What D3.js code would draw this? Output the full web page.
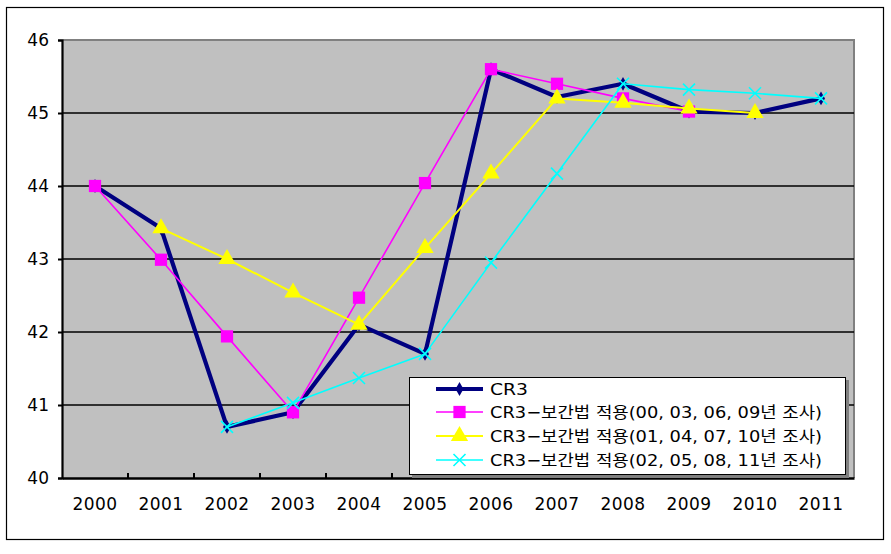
<!DOCTYPE html>
<html><head><meta charset="utf-8">
<script src="https://cdn.jsdelivr.net/npm/d3@7"></script>
<style>
html,body{margin:0;padding:0;background:#fff;}
text{font-family:"DejaVu Sans","Noto Sans CJK KR",sans-serif;}
</style></head>
<body>
<svg id="chart" width="891" height="554"></svg>
<script>
const years = ["2000","2001","2002","2003","2004","2005","2006","2007","2008","2009","2010","2011"];
const cr3 =    [44.0, 43.42, 40.7, 40.9, 42.1, 41.7, 45.6, 45.22, 45.4, 45.02, 45.0, 45.2];
const interpA = [44.0, 42.99, 41.94, 40.9, 42.47, 44.04, 45.6, 45.4, 45.2, 45.02, null, null];
const interpB = [null, 43.42, 43.0, 42.54, 42.1, 43.15, 44.17, 45.2, 45.14, 45.06, 45.0, null];
const interpC = [null, null, 40.7, 41.03, 41.37, 41.7, 42.95, 44.17, 45.4, 45.32, 45.27, 45.2];
const yTicks = [40, 41, 42, 43, 44, 45, 46];
const seriesNames = ["CR3", "CR3−보간법 적용(00, 03, 06, 09년 조사)", "CR3−보간법 적용(01, 04, 07, 10년 조사)", "CR3−보간법 적용(02, 05, 08, 11년 조사)"];

const svg = d3.select("#chart");
const L = 62, R = 854, T = 40, B = 478;

// outer border
svg.append("rect").attr("x", 6.5).attr("y", 7.5).attr("width", 877).attr("height", 532)
  .attr("fill", "#fff").attr("stroke", "#000").attr("stroke-width", 1.2);

const x = d3.scaleBand().domain(years).range([L, R]);
const y = d3.scaleLinear().domain([40, 46]).range([B, T]);

// plot background
svg.append("rect").attr("x", L).attr("y", T).attr("width", R - L).attr("height", B - T).attr("fill", "#C0C0C0");
// top/right border gray
svg.append("path").attr("d", `M${L},${T}H${R}V${B}`).attr("fill", "none").attr("stroke", "#808080").attr("stroke-width", 2);

// gridlines
svg.append("g").selectAll("line").data(yTicks.filter(d => d > 40 && d < 46)).join("line")
  .attr("x1", L).attr("x2", R).attr("y1", d => y(d)).attr("y2", d => y(d))
  .attr("stroke", "#000").attr("stroke-width", 1.6);

// y axis
const yAxis = svg.append("g").attr("transform", `translate(${L},0)`)
  .call(d3.axisLeft(y).tickValues(yTicks).tickSize(4).tickPadding(9).tickFormat(d3.format("d")));
yAxis.select(".domain").attr("stroke", "#000").attr("stroke-width", 2.2);
yAxis.selectAll(".tick line").attr("stroke", "#000").attr("stroke-width", 2);
yAxis.selectAll("text").attr("font-size", 17).attr("fill", "#000").attr("dy", "0.3em");

// x axis
const xAxis = svg.append("g").attr("transform", `translate(0,${B})`)
  .call(d3.axisBottom(x).tickSize(0).tickPadding(20));
xAxis.select(".domain").attr("stroke", "#000").attr("stroke-width", 2.5);
xAxis.selectAll("text").attr("font-size", 17).attr("letter-spacing", 0.4).attr("fill", "#000");
// boundary ticks pointing up
svg.append("g").selectAll("line").data(years.slice(1)).join("line")
  .attr("x1", d => x(d)).attr("x2", d => x(d)).attr("y1", B).attr("y2", B - 5)
  .attr("stroke", "#000").attr("stroke-width", 2);

const cx = i => x(years[i]) + x.bandwidth() / 2;
const line = d3.line().defined(d => d != null).x((d, i) => cx(i)).y(d => y(d));

const styles = [
  {data: cr3, color: "#000080", width: 4.2, marker: "diamond", size: 55},
  {data: interpA, color: "#FF00FF", width: 1.6, marker: "square", size: 150},
  {data: interpB, color: "#FFFF00", width: 2, marker: "triangle", size: 130},
  {data: interpC, color: "#00FFFF", width: 1.6, marker: "x", size: 0}
];

function drawMarker(g, s, px, py) {
  if (s.marker === "x") {
    const r = 6;
    g.append("path").attr("d", `M${px - r},${py - r}L${px + r},${py + r}M${px - r},${py + r}L${px + r},${py - r}`)
      .attr("stroke", s.color).attr("stroke-width", 1.6).attr("fill", "none");
  } else {
    const type = s.marker === "diamond" ? d3.symbolDiamond : s.marker === "square" ? d3.symbolSquare : d3.symbolTriangle;
    g.append("path").attr("d", d3.symbol().type(type).size(s.size)())
      .attr("transform", `translate(${px},${py})`).attr("fill", s.color);
  }
}

styles.forEach(s => {
  const g = svg.append("g");
  g.append("path").attr("d", line(s.data)).attr("fill", "none")
    .attr("stroke", s.color).attr("stroke-width", s.width).attr("stroke-linejoin", "round");
  s.data.forEach((d, i) => { if (d != null) drawMarker(g, s, cx(i), y(d)); });
});

// legend
const lg = svg.append("g");
lg.append("rect").attr("x", 412).attr("y", 380).attr("width", 437).attr("height", 98).attr("fill", "#808080");
lg.append("rect").attr("x", 409.5).attr("y", 377.5).attr("width", 436).attr("height", 97)
  .attr("fill", "#fff").attr("stroke", "#000").attr("stroke-width", 1);
const ly = [389, 412, 436, 460];
styles.forEach((s, i) => {
  const g = lg.append("g");
  g.append("line").attr("x1", 436).attr("x2", 483).attr("y1", ly[i]).attr("y2", ly[i])
    .attr("stroke", s.color).attr("stroke-width", s.width);
  drawMarker(g, s, 459.5, ly[i]);
  const t = g.append("text").attr("x", 490).attr("y", ly[i]).attr("dy", "0.35em")
    .attr("font-size", 16).attr("fill", "#000").text(seriesNames[i]);
  if (i === 0) t.attr("textLength", 38).attr("lengthAdjust", "spacingAndGlyphs");
  else t.attr("textLength", 332).attr("lengthAdjust", "spacingAndGlyphs");
});
</script>
</body></html>
